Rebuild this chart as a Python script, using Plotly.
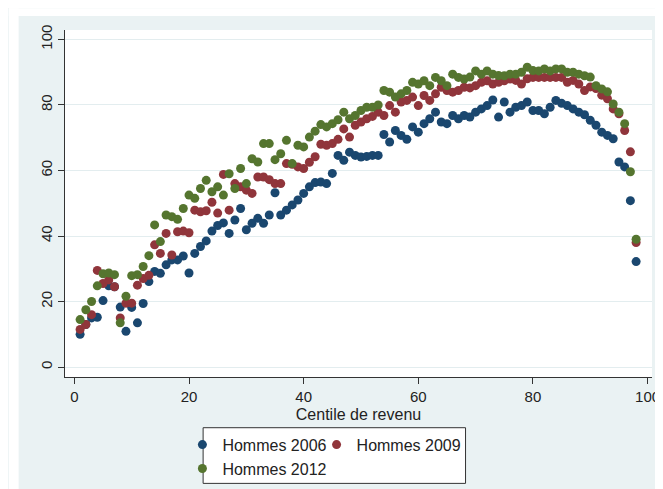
import plotly.graph_objects as go

centiles = list(range(1, 99))

hommes_2006 = [10, 13, 15, 15.2, 20.3, 24.8, 24.5, 18.3, 10.9, 18.2,
               13.5, 19.4, 26.1, 29.2, 28.6, 31.2, 32.7, 32.7, 33.9, 28.7,
               34.7, 36.8, 38.5, 41.5, 43.2, 44, 40.8, 44.9, 48.4, 41.9,
               43.9, 45.4, 43.9, 46.4, 53.2, 46.4, 47.9, 49.5, 51, 53,
               55, 56.3, 56.5, 56, 59.1, 64.6, 63.1, 65.6, 64.6, 64.1,
               64.3, 64.6, 64.6, 71, 68.7, 72.2, 70.7, 69.5, 73.3, 71.7,
               74.3, 75.8, 77.8, 74.8, 74.3, 76.8, 75.8, 76.8, 76.3, 77.8,
               78.8, 79.8, 81.5, 76.3, 80.9, 77.8, 79.3, 79.8, 80.9, 78.3,
               78.3, 77.3, 79.3, 81.4, 80.5, 79.8, 78.8, 77.8, 77, 75.3,
               73.8, 71.7, 70.7, 69.7, 62.6, 61.1, 50.8, 32.2]

hommes_2009 = [11.5, 13, 16, 29.5, 25.5, 26.6, 24.5, 15, 19.5, 19.5,
               25, 27, 28, 37.3, 34.7, 40.8, 34.2, 41.3, 41.5, 41,
               47.9, 47.4, 47.7, 50.3, 47, 58.8, 47.9, 56, 55, 54,
               53, 58, 58, 57.2, 56, 56, 62.1, 61.9, 61.1, 60.6,
               62.5, 64.2, 68, 67.7, 68.2, 69.5, 72.7, 70.2, 73.8, 74.8,
               75.8, 76.5, 77.8, 76.8, 79.8, 77.8, 80.9, 81.4, 82.4, 79.8,
               82.9, 81.4, 83.4, 85.4, 84.4, 83.9, 84.4, 85.4, 85.2, 85.9,
               86.9, 87.4, 86.4, 86.9, 87.4, 87.9, 87.5, 86.4, 88, 88.4,
               88.4, 88.4, 88.4, 88.4, 88.4, 86.9, 87.5, 86.4, 84.4, 85.5,
               85, 83, 81.9, 78.8, 77.3, 72.2, 65.7, 38]

hommes_2012 = [14.5, 17.5, 20, 24.8, 28.5, 28.7, 28.2, 13.5, 21.6, 27.9,
               28.2, 30.7, 34, 43.4, 38.3, 46.4, 45.9, 45.1, 48.4, 52.5,
               51.5, 54.5, 57, 53.5, 55, 52.5, 59, 54.5, 60.6, 56,
               63.6, 62.6, 68.2, 68.2, 63.3, 65.1, 69.2, 62.1, 67.7, 67.2,
               70.2, 72, 74, 73.3, 74.3, 75.5, 77.8, 75.8, 76.8, 78.3,
               79.3, 79.3, 80, 84.4, 83.9, 82.4, 83.4, 84.4, 86.9, 86.4,
               87.4, 85.9, 88.4, 87.4, 85.9, 89.4, 88.4, 87.9, 88.5, 90.4,
               89.4, 90.4, 89.4, 89, 88.9, 89.4, 89.4, 90, 91.5, 90.5,
               90.4, 91, 90.4, 91, 91, 90, 90, 89.4, 88.9, 88.5,
               85.9, 84.9, 84, 80.3, 77.8, 74.3, 59.6, 39]

series_names = ["Hommes 2006", "Hommes 2009", "Hommes 2012"]
series_colors = ["#1A476F", "#90353B", "#55752F"]
series_values = [hommes_2006, hommes_2009, hommes_2012]
series_legends = ["legend", "legend3", "legend2"]

x_ticks = [0, 20, 40, 60, 80, 100]
y_ticks = [0, 20, 40, 60, 80, 100]

W, H = 663, 489
L, R, T, B = 57, 11, 22, 118
PW, PH = W - L - R, H - T - B


def px_x(p):
    return (p - L) / PW


def px_y(p):
    return (H - B - p) / PH


FONT = "Liberation Sans, Arial, sans-serif"
TXT = "#222222"
BG = "#EAF2F3"

fig = go.Figure()
for name, vals, col, lg in zip(series_names, series_values, series_colors, series_legends):
    fig.add_trace(go.Scatter(
        x=centiles, y=vals, mode="markers", name=name, legend=lg,
        marker=dict(color=col, size=9, line=dict(width=0)),
    ))

shapes = [
    # legend box
    dict(type="rect", xref="paper", yref="paper",
         x0=px_x(197), x1=px_x(463), y0=px_y(478), y1=px_y(422),
         line=dict(color="#333333", width=1), fillcolor="white", layer="below"),
    # thin white outer border (left, top, right)
    dict(type="rect", xref="paper", yref="paper",
         x0=px_x(0), x1=px_x(10), y0=px_y(H), y1=px_y(0),
         line=dict(width=0), fillcolor="white", layer="below"),
    dict(type="rect", xref="paper", yref="paper",
         x0=px_x(0), x1=px_x(W), y0=px_y(8), y1=px_y(0),
         line=dict(width=0), fillcolor="white", layer="below"),
    dict(type="rect", xref="paper", yref="paper",
         x0=px_x(658), x1=px_x(W), y0=px_y(H), y1=px_y(0),
         line=dict(width=0), fillcolor="white", layer="below"),
]

legend_common = dict(
    orientation="h", xref="paper", yref="paper", xanchor="left", yanchor="top",
    bgcolor="rgba(0,0,0,0)", borderwidth=0, font=dict(size=16, color=TXT),
)

fig.update_layout(
    width=W, height=H,
    margin=dict(l=L, r=R, t=T, b=B, pad=0),
    paper_bgcolor=BG, plot_bgcolor="white",
    font=dict(family=FONT, color=TXT, size=15),
    shapes=shapes,
    xaxis=dict(
        range=[-1.635, 100.77], tickvals=x_ticks, ticks="outside", ticklen=6,
        tickcolor="#333333", showline=True, linecolor="#333333", linewidth=1,
        showgrid=False, zeroline=False, tickfont=dict(size=15),
        title=dict(text="Centile de revenu", font=dict(size=16), standoff=4),
    ),
    yaxis=dict(
        range=[-3.03, 102.88], tickvals=y_ticks, ticks="outside", ticklen=6,
        tickcolor="#333333", showline=True, linecolor="#333333", linewidth=1,
        showgrid=True, gridcolor="#E3EDEF", gridwidth=1, zeroline=False,
        tickangle=-90, tickfont=dict(size=15),
    ),
    legend=dict(legend_common, x=px_x(176), y=px_y(422)),
    legend3=dict(legend_common, x=px_x(312), y=px_y(422)),
    legend2=dict(legend_common, x=px_x(176), y=px_y(446)),
    showlegend=True,
)

fig.write_html("out.html")
